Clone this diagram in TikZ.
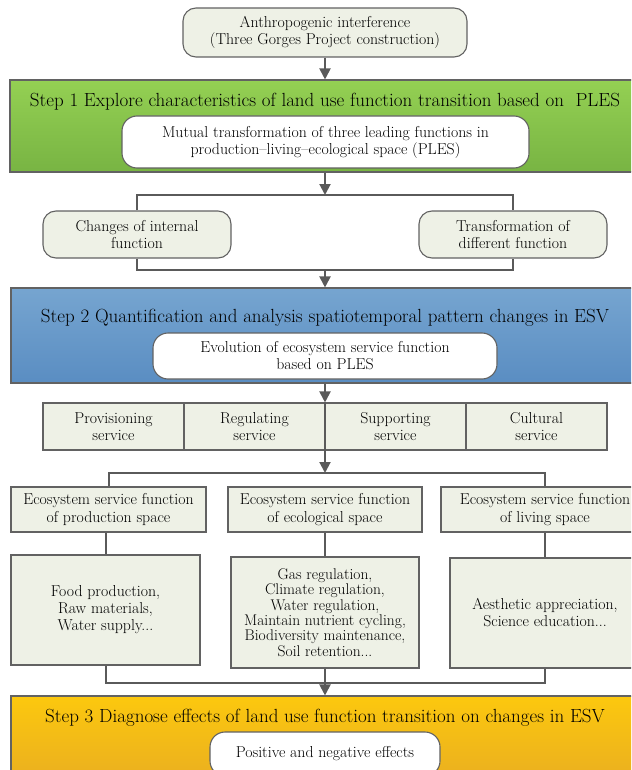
\documentclass[tikz,border=0pt]{standalone}
\usetikzlibrary{arrows.meta}
\definecolor{lightfill}{HTML}{EEF1E6}
\definecolor{bordergray}{HTML}{626262}
\definecolor{conngray}{HTML}{5A5A5A}
\definecolor{gtop}{HTML}{94D053}
\definecolor{gbot}{HTML}{78B443}
\definecolor{btop}{HTML}{76A5D0}
\definecolor{bbot}{HTML}{5A8DC2}
\definecolor{ytop}{HTML}{FCC80E}
\definecolor{ybot}{HTML}{E8AC22}
\tikzset{
  bodytext/.style={font=\fontsize{15.8}{17}\selectfont, align=center, text=black},
  titletext/.style={font=\fontsize{19}{22}\selectfont, text=black, inner sep=0pt},
  softbox/.style={bodytext, draw=bordergray, line width=1.1pt, fill=lightfill, rounded corners=13pt, inner sep=0pt},
  whitebox/.style={bodytext, draw=bordergray, line width=1.1pt, fill=white, rounded corners=15pt, inner sep=0pt},
  sqbox/.style={bodytext, draw=bordergray, line width=1.1pt, fill=lightfill, inner sep=0pt},
  band/.style={draw=bordergray, line width=1.1pt, inner sep=0pt},
  conn/.style={draw=conngray, line width=2pt},
  arr/.style={conn, -{Triangle[length=11pt,width=11pt]}},
}
\begin{document}
\begin{tikzpicture}[x=1pt,y=-1pt]
\useasboundingbox (0,0) rectangle (631,770);
\clip (0,0) rectangle (631,770);
% top box
\node[softbox, minimum width=284, minimum height=49] (top) at (325,32.5)
  {Anthropogenic interference\\(Three Gorges Project construction)};
% step 1 band
\node[band, top color=gtop, bottom color=gbot, minimum width=640, minimum height=92] (s1) at (330,126) {};
\node[titletext] (t1) at (325,102) {Step 1 Explore characteristics of land use function transition based on\ \ PLES};
\node[whitebox, minimum width=407, minimum height=52] (w1) at (325.5,142)
  {Mutual transformation of three leading functions in\\production–living–ecological space (PLES)};
\draw[arr] (top.south) -- (top.south |- s1.north);
% bracket 1
\node[softbox, minimum width=188, minimum height=47] (c1) at (137,234.5) {Changes of internal\\function};
\node[softbox, minimum width=188, minimum height=47] (c2) at (513,234.5) {Transformation of\\different function};
\coordinate (b1) at (325,195);
\coordinate (b2) at (325,270);
\draw[arr] (b1 |- s1.south) -- (b1);
\draw[conn] (c1.north) |- (b1) -| (c2.north);
\draw[conn] (c1.south) |- (b2) -| (c2.south);
% step 2 band
\node[band, top color=btop, bottom color=bbot, minimum width=640, minimum height=95] (s2) at (331,335.5) {};
\draw[arr] (b2) -- (b2 |- s2.north);
\node[titletext] (t2) at (325,318) {Step 2 Quantification and analysis spatiotemporal pattern changes in ESV};
\node[whitebox, minimum width=344, minimum height=46] (w2) at (325,356) {Evolution of ecosystem service function\\based on PLES};
% services
\node[sqbox, minimum width=141, minimum height=47] (v1) at (113.5,426.5) {Provisioning\\service};
\node[sqbox, minimum width=141, minimum height=47] (v2) at (254.5,426.5) {Regulating\\service};
\node[sqbox, minimum width=141, minimum height=47] (v3) at (395.5,426.5) {Supporting\\service};
\node[sqbox, minimum width=141, minimum height=47] (v4) at (536.5,426.5) {Cultural\\service};
\coordinate (b3) at (325,473);
\draw[arr] (b3 |- s2.south) -- (b3 |- v2.north);
\draw[conn] (b3 |- v2.north) -- (b3 |- v2.south);
\draw[arr] (b3 |- v2.south) -- (b3);
% eco boxes
\node[sqbox, minimum width=195, minimum height=45, font=\fontsize{15.8}{18.5}\selectfont] (e1) at (108.5,509.5) {Ecosystem service function\\of production space};
\node[sqbox, minimum width=194, minimum height=45, font=\fontsize{15.8}{18.5}\selectfont] (e2) at (325,509.5) {Ecosystem service function\\of ecological space};
\node[sqbox, minimum width=208, minimum height=45, font=\fontsize{15.8}{18.5}\selectfont] (e3) at (545,509.5) {Ecosystem service function\\of living space};
\draw[conn] (e1.north) |- (b3) -| (e3.north);
% detail boxes
\node[sqbox, minimum width=189, minimum height=110] (d1) at (105.5,610) {Food production,\\Raw materials,\\Water supply...};
\node[sqbox, minimum width=188, minimum height=111, font=\fontsize{15.5}{15.4}\selectfont] (d2) at (325,612.5) {Gas regulation,\\Climate regulation,\\Water regulation,\\Maintain nutrient cycling,\\Biodiversity maintenance,\\Soil retention...};
\node[sqbox, minimum width=190, minimum height=110] (d3) at (545,613) {Aesthetic appreciation,\\Science education...};
\draw[conn] (e1.south -| d1.north) -- (d1.north);
\draw[conn] (e2.south) -- (d2.north);
\draw[conn] (e3.south) -- (d3.north);
\coordinate (b4) at (325,683);
\draw[conn] (d1.south) |- (b4) -| (d3.south);
% step 3 band
\node[band, top color=ytop, bottom color=ybot, minimum width=640, minimum height=95] (s3) at (331,743.5) {};
\draw[arr] (d2.south) -- (d2.south |- s3.north);
\node[titletext] (t3) at (325,718) {Step 3 Diagnose effects of land use function transition on changes in ESV};
\node[whitebox, minimum width=230, minimum height=44] (w3) at (325,754) {Positive and negative effects};
\end{tikzpicture}
\end{document}
